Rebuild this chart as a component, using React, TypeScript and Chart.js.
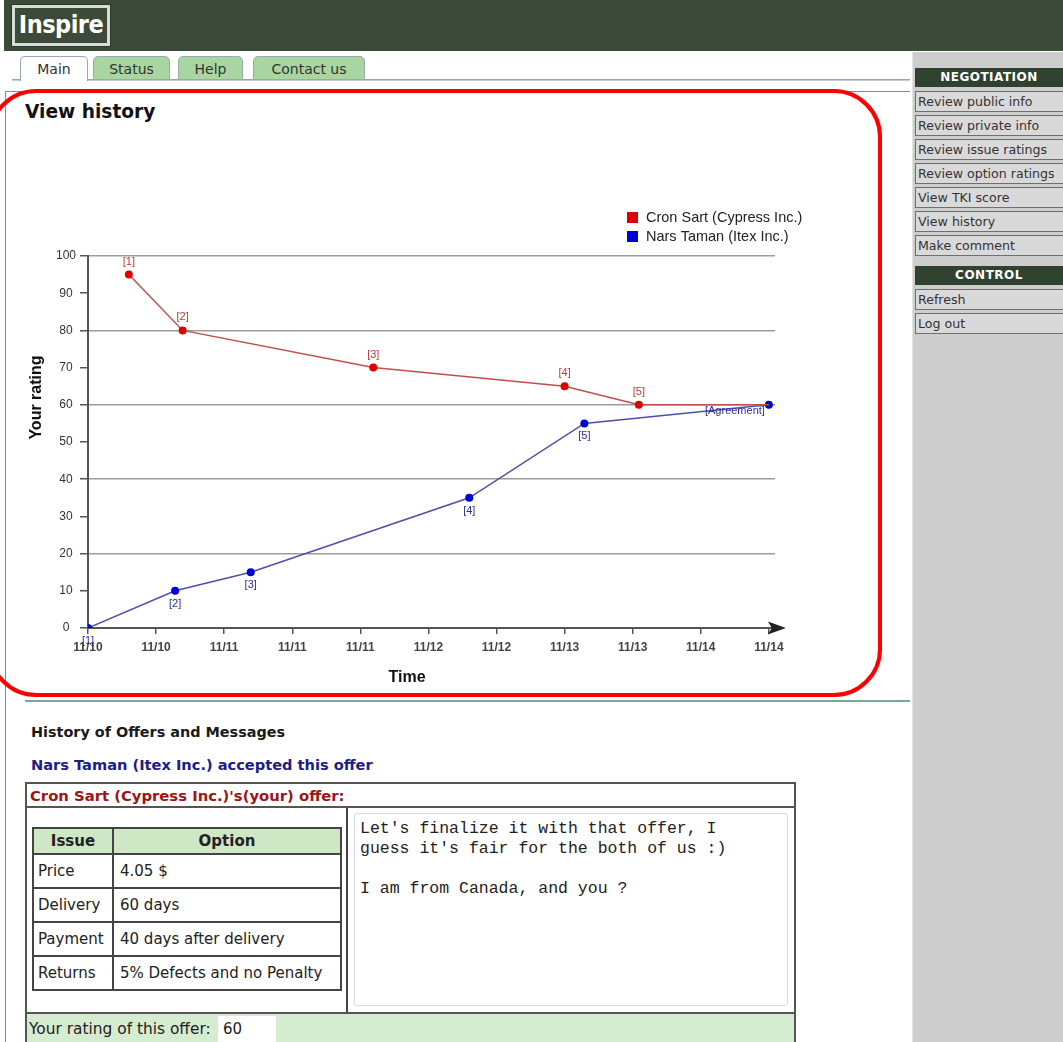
import React, { useEffect, useRef } from 'react';
import { Chart, registerables } from 'chart.js';

Chart.register(...registerables);

// ---------- data ----------
const timeLabels = ['11/10', '11/10', '11/11', '11/11', '11/11', '11/12', '11/12', '11/13', '11/13', '11/14', '11/14'];
const seriesNames = ['Cron Sart (Cypress Inc.)', 'Nars Taman (Itex Inc.)'];
const cronTimes = [0.6, 1.39, 4.19, 7.0, 8.09, 10.0];
const cronRatings = [95, 80, 70, 65, 60, 60];
const cronMarks = ['[1]', '[2]', '[3]', '[4]', '[5]', ''];
const narsTimes = [0, 1.28, 2.39, 5.6, 7.29, 10.0];
const narsRatings = [0, 10, 15, 35, 55, 60];
const narsMarks = ['[1]', '[2]', '[3]', '[4]', '[5]', '[Agreement]'];

const offerIssues = ['Price', 'Delivery', 'Payment', 'Returns'];
const offerOptions = ['4.05 $', '60 days', '40 days after delivery', '5% Defects and no Penalty'];
const negotiationMenu = ['Review public info', 'Review private info', 'Review issue ratings', 'Review option ratings', 'View TKI score', 'View history', 'Make comment'];
const controlMenu = ['Refresh', 'Log out'];
const tabNames = ['Main', 'Status', 'Help', 'Contact us'];
const offerMessage = "Let's finalize it with that offer, I\nguess it's fair for the both of us :)\n\nI am from Canada, and you ?";
const offerRating = '60';

const SANS = '"Liberation Sans", Arial, sans-serif';
const UI = '"DejaVu Sans", Verdana, sans-serif';

const pointLabelPlugin = {
  id: 'pointLabels',
  afterDatasetsDraw(chart: any) {
    const ctx = chart.ctx;
    ctx.save();
    chart.data.datasets.forEach((ds: any, i: number) => {
      const meta = chart.getDatasetMeta(i);
      meta.data.forEach((pt: any, j: number) => {
        const label = ds.marks[j];
        if (!label) return;
        ctx.font = '11px ' + SANS;
        ctx.fillStyle = ds.labelColor;
        ctx.textBaseline = 'middle';
        if (label.length > 4) {
          ctx.textAlign = 'right';
          ctx.fillText(label, pt.x - 4, pt.y + 6);
        } else {
          ctx.textAlign = 'center';
          ctx.fillText(label, pt.x, pt.y + (ds.labelAbove ? -13 : 13));
        }
      });
    });
    ctx.restore();
  },
};

const legendPlugin = {
  id: 'stackLegend',
  afterDraw(chart: any) {
    const ctx = chart.ctx;
    const x0 = chart.chartArea.right - 148;
    const y0 = chart.chartArea.top - 44;
    ctx.save();
    chart.data.datasets.forEach((ds: any, i: number) => {
      const y = y0 + i * 19;
      ctx.fillStyle = ds.pointBackgroundColor;
      ctx.fillRect(x0, y, 11, 11);
      ctx.fillStyle = '#222';
      ctx.font = '14.5px ' + SANS;
      ctx.textAlign = 'left';
      ctx.textBaseline = 'middle';
      ctx.fillText(ds.label, x0 + 19, y + 6);
    });
    ctx.restore();
  },
};

const arrowPlugin = {
  id: 'axisArrow',
  afterDraw(chart: any) {
    const ctx = chart.ctx;
    const xs = chart.scales.x;
    const bx = xs.getPixelForValue(10) - 1;
    const y = chart.chartArea.bottom;
    ctx.save();
    ctx.fillStyle = '#222';
    ctx.beginPath();
    ctx.moveTo(bx + 18, y);
    ctx.lineTo(bx, y - 6.5);
    ctx.lineTo(bx + 4, y);
    ctx.lineTo(bx, y + 6.5);
    ctx.closePath();
    ctx.fill();
    ctx.restore();
  },
};

function HistoryChart() {
  const ref = useRef<HTMLCanvasElement>(null);
  useEffect(() => {
    if (!ref.current) return;
    const chart = new Chart(ref.current, {
      type: 'line',
      data: {
        datasets: [
          {
            label: seriesNames[0],
            data: cronTimes.map((x, i) => ({ x, y: cronRatings[i] })),
            borderColor: '#c44e4e',
            borderWidth: 1.5,
            pointRadius: cronMarks.map((m) => (m ? 4 : 0)),
            pointBackgroundColor: '#e00000',
            pointBorderWidth: 0,
            tension: 0,
            fill: false,
            marks: cronMarks,
            labelAbove: true,
            labelColor: '#c03a3a',
          } as any,
          {
            label: seriesNames[1],
            data: narsTimes.map((x, i) => ({ x, y: narsRatings[i] })),
            borderColor: '#4f4faa',
            borderWidth: 1.5,
            pointRadius: 4,
            pointBackgroundColor: '#0000d8',
            pointBorderWidth: 0,
            tension: 0,
            fill: false,
            marks: narsMarks,
            labelAbove: false,
            labelColor: '#2c2ca0',
          } as any,
        ],
      },
      options: {
        animation: false,
        responsive: false,
        maintainAspectRatio: false,
        layout: { padding: { top: 76, right: 105, bottom: 0, left: 0 } },
        plugins: { legend: { display: false }, tooltip: { enabled: false } },
        scales: {
          x: {
            type: 'linear',
            min: 0,
            max: 10.09,
            afterFit: (s: any) => { s.height = 72; },
            border: { color: '#555', width: 2 },
            grid: { color: 'rgba(0,0,0,0)', tickColor: '#555', tickLength: 6, lineWidth: 1.5 },
            ticks: {
              stepSize: 1,
              includeBounds: false,
              autoSkip: false,
              maxRotation: 0,
              padding: 6,
              color: '#444',
              font: { family: SANS, size: 12, weight: 'bold' },
              callback: (v: any) => timeLabels[Math.round(Number(v))] ?? '',
            },
            title: {
              display: true,
              text: 'Time' + ' '.repeat(11),
              color: '#111',
              font: { family: SANS, size: 16, weight: 'bold' },
              padding: { top: 0, bottom: 13 },
            },
          },
          y: {
            type: 'linear',
            min: 0,
            max: 100,
            afterFit: (s: any) => { s.width = 88; },
            border: { color: '#555', width: 2 },
            grid: {
              color: (c: any) => (c.tick && c.tick.value % 20 === 0 && c.tick.value !== 0 ? '#9c9c9c' : 'rgba(0,0,0,0)'),
              tickColor: '#555',
              tickLength: 8,
              lineWidth: 1.5,
            },
            ticks: {
              stepSize: 10,
              padding: 4,
              crossAlign: 'center',
              color: '#333',
              font: { family: SANS, size: 12 },
            },
            title: {
              display: true,
              text: ' '.repeat(20) + 'Your rating',
              color: '#111',
              font: { family: SANS, size: 16, weight: 'bold' },
              padding: { top: 27, bottom: 0 },
            },
          },
        },
      } as any,
      plugins: [pointLabelPlugin, legendPlugin, arrowPlugin],
    });
    return () => chart.destroy();
  }, []);
  return <canvas ref={ref} width={880} height={520} style={{ position: 'absolute', left: 0, top: 180 }} />;
}

const abs = (l: number, t: number, w: number, h: number, extra: any = {}) => ({
  position: 'absolute' as const, left: l, top: t, width: w, height: h, boxSizing: 'border-box' as const, ...extra,
});

export default function App() {
  const tabPos = [[20, 68], [93, 77], [178, 65], [253, 112]];
  return (
    <div style={{ position: 'absolute', left: 0, top: 0, width: 1063, height: 1042, overflow: 'hidden', background: '#fff', fontFamily: UI }}>
      {/* header */}
      <div style={abs(4, 0, 1059, 51, { background: '#3b4a39' })} />
      <div style={abs(12, 5, 98, 41, { border: '3px solid #d8dcd6', outline: '1px solid #2a3529', background: '#3b4a39', color: '#fff', fontFamily: '"DejaVu Sans Condensed", "Liberation Sans Narrow", sans-serif', fontWeight: 'bold', fontSize: 25, lineHeight: '33px', textAlign: 'center', overflow: 'hidden', letterSpacing: -0.5 })}>
        Inspire
      </div>

      {/* tabs */}
      <div style={abs(12, 79, 898, 2, { borderTop: '1px solid #9aa3b0', borderBottom: '1px solid #c8cdd4' })} />
      {tabNames.map((t, i) => (
        <div key={t} style={abs(tabPos[i][0], 56, tabPos[i][1], i === 0 ? 25 : 24, {
          background: i === 0 ? '#fff' : '#a9d6a0', border: '1px solid #9aaab0', borderBottom: i === 0 ? 'none' : '1px solid #9aaab0',
          borderRadius: '5px 5px 0 0', textAlign: 'center', fontSize: 14, lineHeight: '24px', color: '#333',
        })}>{t}</div>
      ))}

      {/* sidebar */}
      <div style={abs(912, 52, 151, 990, { background: '#cdcdcd', borderLeft: '1px solid #e4e4e4' })} />
      <div style={abs(915, 68, 148, 19, { background: '#2f412f', color: '#fff', fontWeight: 'bold', fontSize: 12, lineHeight: '19px', textAlign: 'center', letterSpacing: 0.5 })}>NEGOTIATION</div>
      {negotiationMenu.map((m, i) => (
        <div key={m} style={abs(915, 91 + i * 24, 148, 21, { background: '#d9d9d9', border: '1px solid #6f6f6f', borderRight: 'none', fontSize: 12.6, lineHeight: '19px', color: '#333', paddingLeft: 2, whiteSpace: 'nowrap', overflow: 'hidden' })}>{m}</div>
      ))}
      <div style={abs(915, 266, 148, 19, { background: '#2f412f', color: '#fff', fontWeight: 'bold', fontSize: 12, lineHeight: '19px', textAlign: 'center', letterSpacing: 0.5 })}>CONTROL</div>
      {controlMenu.map((m, i) => (
        <div key={m} style={abs(915, 289 + i * 24, 148, 21, { background: '#d9d9d9', border: '1px solid #6f6f6f', borderRight: 'none', fontSize: 12.6, lineHeight: '19px', color: '#333', paddingLeft: 2 })}>{m}</div>
      ))}

      {/* content frame */}
      <div style={abs(5, 91, 905, 960, { borderLeft: '1px solid #8a8a8a', borderTop: '1px solid #8a8a8a' })} />
      <div style={abs(25, 99, 300, 26, { fontWeight: 'bold', fontSize: 18.6, color: '#111', lineHeight: '26px' })}>View history</div>

      <HistoryChart />

      {/* annotation */}
      <div style={abs(-12, 89, 894, 608, { border: '4px solid #f00', borderRadius: 48, pointerEvents: 'none' })} />

      <div style={abs(25, 700, 885, 2, { background: '#7aa896' })} />

      <div style={abs(31, 722, 400, 20, { fontWeight: 'bold', fontSize: 14.4, color: '#1a1a1a', lineHeight: '20px' })}>History of Offers and Messages</div>
      <div style={abs(31, 755, 420, 20, { fontWeight: 'bold', fontSize: 14.6, color: '#1c1c8a', lineHeight: '20px' })}>Nars Taman (Itex Inc.) accepted this offer</div>

      {/* offer box */}
      <div style={abs(25, 782, 771, 280, { border: '2px solid #555', borderBottom: 'none' })} />
      <div style={abs(27, 784, 767, 24, { fontWeight: 'bold', fontSize: 14.8, color: '#a01414', lineHeight: '23px', paddingLeft: 3, borderBottom: '2px solid #555', whiteSpace: 'nowrap' })}>Cron Sart (Cypress Inc.)'s(your) offer:</div>
      <div style={abs(346, 808, 2, 205, { background: '#444' })} />

      {/* issue table */}
      <table style={{ position: 'absolute', left: 32, top: 827, width: 310, borderCollapse: 'collapse', fontFamily: UI, fontSize: 15, color: '#222' }}>
        <tbody>
          <tr style={{ height: 26, background: '#cfe7c4' }}>
            <th style={{ border: '2px solid #444', width: 78, fontWeight: 'bold', textAlign: 'center', padding: 0 }}>Issue</th>
            <th style={{ border: '2px solid #444', fontWeight: 'bold', textAlign: 'center', padding: 0 }}>Option</th>
          </tr>
          {offerIssues.map((iss, i) => (
            <tr key={iss} style={{ height: 34 }}>
              <td style={{ border: '2px solid #444', padding: '0 4px', whiteSpace: 'nowrap' }}>{iss}</td>
              <td style={{ border: '2px solid #444', padding: '0 6px', whiteSpace: 'nowrap' }}>{offerOptions[i]}</td>
            </tr>
          ))}
        </tbody>
      </table>

      {/* message */}
      <div style={abs(354, 813, 434, 193, { border: '1px solid #dadada', borderRadius: 3, background: '#fff', fontFamily: '"Liberation Mono", "Courier New", monospace', fontSize: 16.5, lineHeight: '20px', color: '#222', padding: '5px 0 0 5px', whiteSpace: 'pre' })}>
        {offerMessage}
      </div>

      {/* rating row */}
      <div style={abs(27, 1012, 767, 40, { background: '#d6ecd0', borderTop: '2px solid #555' })} />
      <div style={abs(29, 1018, 200, 22, { fontFamily: UI, fontSize: 15.4, lineHeight: '22px', color: '#222', whiteSpace: 'nowrap' })}>Your rating of this offer:</div>
      <div style={abs(218, 1016, 58, 28, { background: '#fff', fontFamily: UI, fontSize: 15, lineHeight: '26px', color: '#222', paddingLeft: 5 })}>{offerRating}</div>
    </div>
  );
}
